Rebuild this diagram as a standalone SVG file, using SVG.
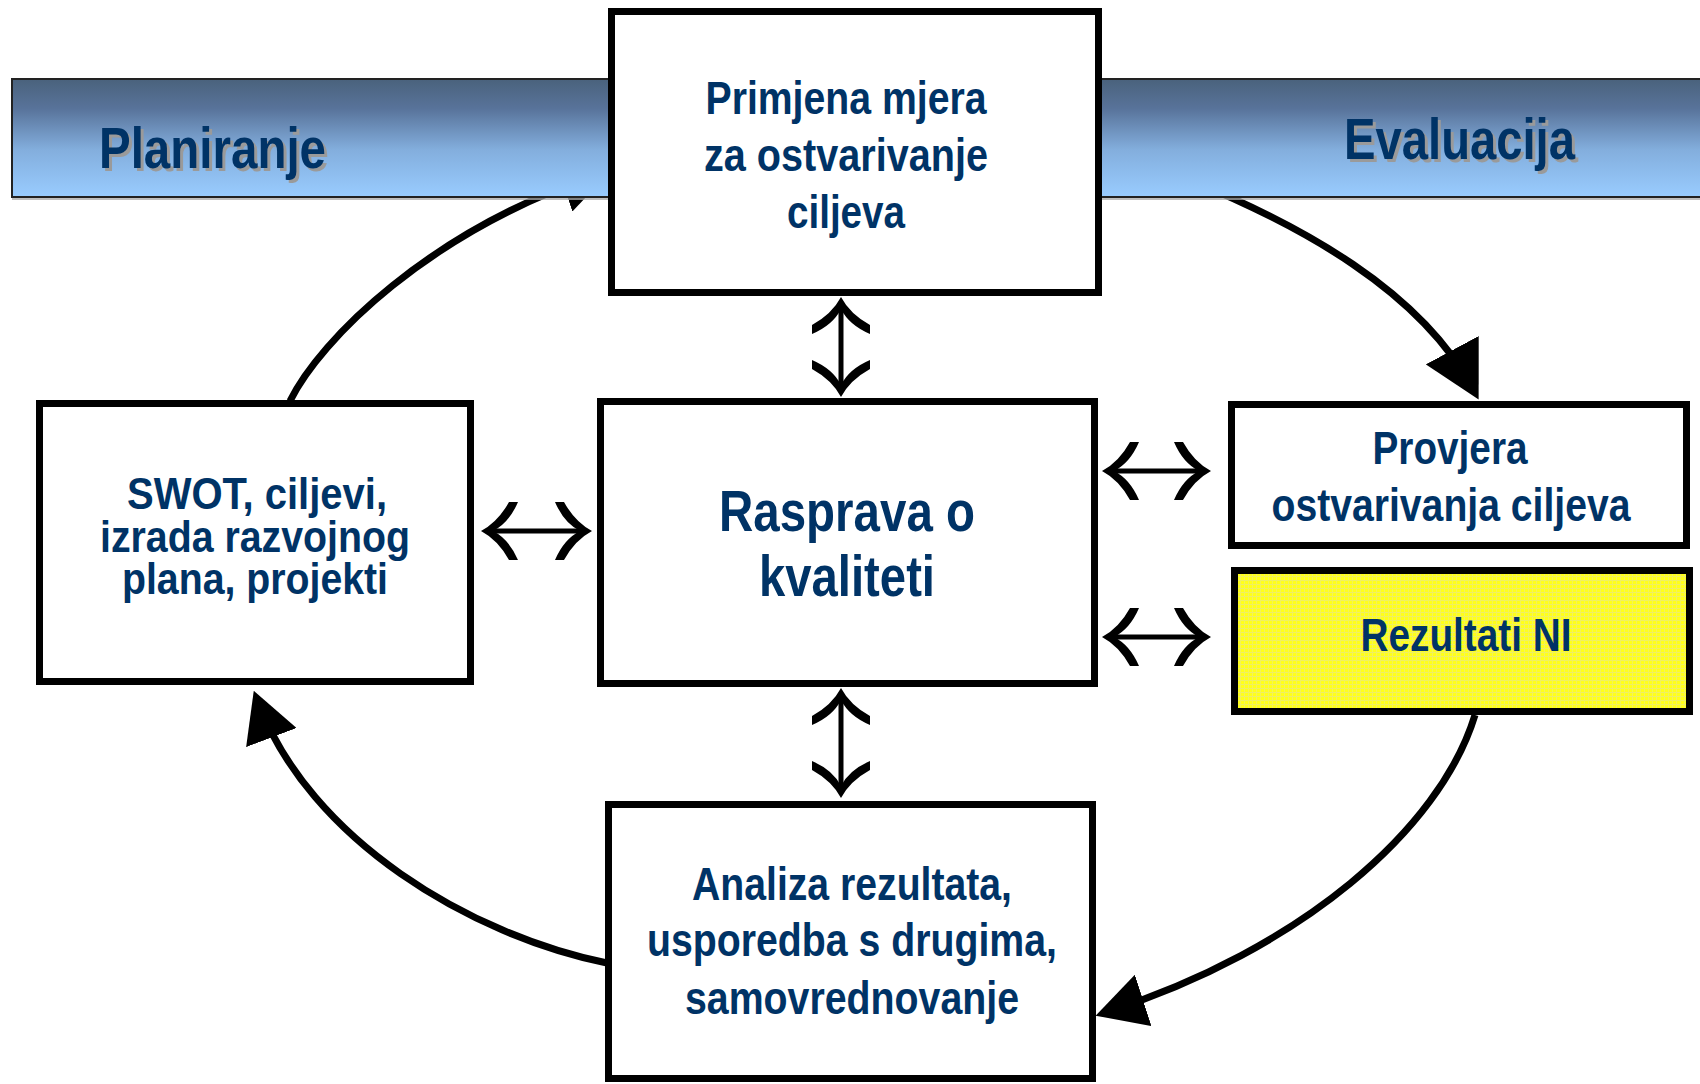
<svg xmlns="http://www.w3.org/2000/svg" width="1700" height="1084" viewBox="0 0 1700 1084">
<defs>
<style>
.box{fill:#ffffff;stroke:#000000;stroke-width:7}
.lbl{font-family:"Liberation Sans Narrow","Liberation Sans",Arial,sans-serif;font-weight:bold;fill:#003366;text-anchor:middle}
.t45{font-size:45px}
.t47{font-size:47px}
.t58{font-size:58px}
.ban{font-family:"Liberation Sans Narrow","Liberation Sans",Arial,sans-serif;font-weight:bold;font-size:58px}
.curve{fill:none;stroke:#000000;stroke-width:7;marker-end:url(#tri)}
.dbl{fill:none;stroke:#000000;stroke-width:5;marker-start:url(#chev);marker-end:url(#chev)}
</style>
<linearGradient id="bangrad" x1="0" y1="0" x2="0" y2="1">
<stop offset="0" stop-color="#4a627c"/>
<stop offset="0.25" stop-color="#58739a"/>
<stop offset="0.6" stop-color="#83aedd"/>
<stop offset="1" stop-color="#99ccff"/>
</linearGradient>
<pattern id="ytex" width="4" height="4" patternUnits="userSpaceOnUse">
<rect width="4" height="4" fill="#ffff1a"/>
<rect width="4" height="1" fill="#eeee66"/>
<rect width="1" height="4" fill="#f2f25a"/>
</pattern>
<marker id="tri" markerUnits="userSpaceOnUse" viewBox="0 0 50 54" markerWidth="50" markerHeight="54" refX="38" refY="27" orient="auto">
<path d="M0,0 L50,27 L0,54 Z" fill="#000000"/>
</marker>
<marker id="triL" markerUnits="userSpaceOnUse" viewBox="0 0 56 60" markerWidth="56" markerHeight="60" refX="44" refY="30" orient="auto">
<path d="M0,0 L56,30 L0,60 Z" fill="#000000"/>
</marker>
<marker id="chev" markerUnits="userSpaceOnUse" viewBox="0 0 40 60" markerWidth="40" markerHeight="60" refX="30" refY="30" orient="auto-start-reverse">
<path d="M39,30 Q22,21 11,1 L2,1 Q11,22 27,30 Q11,38 2,59 L11,59 Q22,39 39,30 Z" fill="#000000"/>
</marker>
</defs>
<rect width="1700" height="1084" fill="#ffffff"/>

<g id="connectors">
<path class="curve" d="M290,401 C320,340 430,230 600,174"/>
<path class="curve" style="marker-end:url(#triL)" d="M1190,180 C1300,225 1420,290 1473,389"/>
<path class="curve" d="M1475,715 C1440,830 1300,950 1107,1012"/>
<path class="curve" d="M607,963 C470,935 310,840 258,702"/>
<path class="dbl" d="M841,306 L841,388"/>
<path class="dbl" d="M841,697 L841,789"/>
<path class="dbl" d="M490,531 L583,531"/>
<path class="dbl" d="M1111,471 L1202,471"/>
<path class="dbl" d="M1111,637 L1202,637"/>
</g>

<g id="banner">
<rect x="12" y="79" width="1700" height="118" fill="url(#bangrad)" stroke="#222222" stroke-width="2"/>
<line x1="12" y1="199" x2="1700" y2="199" stroke="#aaaaaa" stroke-width="1.5"/>
<text class="ban" x="102" y="171" fill="#9a9a9a" textLength="227" lengthAdjust="spacingAndGlyphs">Planiranje</text>
<text class="ban" x="99" y="168" fill="#003366" textLength="227" lengthAdjust="spacingAndGlyphs">Planiranje</text>
<text class="ban" x="1347" y="162" fill="#9a9a9a" textLength="231" lengthAdjust="spacingAndGlyphs">Evaluacija</text>
<text class="ban" x="1344" y="159" fill="#003366" textLength="231" lengthAdjust="spacingAndGlyphs">Evaluacija</text>
</g>

<g id="node-primjena">
<rect class="box" x="611.5" y="11.5" width="487" height="281"/>
<text class="lbl t47" x="846" y="114" textLength="281" lengthAdjust="spacingAndGlyphs">Primjena mjera</text>
<text class="lbl t47" x="846" y="171" textLength="284" lengthAdjust="spacingAndGlyphs">za ostvarivanje</text>
<text class="lbl t47" x="846" y="228" textLength="118" lengthAdjust="spacingAndGlyphs">ciljeva</text>
</g>

<g id="node-rasprava">
<rect class="box" x="600.5" y="401.5" width="494" height="282"/>
<text class="lbl t58" x="847" y="531" textLength="256" lengthAdjust="spacingAndGlyphs">Rasprava o</text>
<text class="lbl t58" x="847" y="596" textLength="176" lengthAdjust="spacingAndGlyphs">kvaliteti</text>
</g>

<g id="node-swot">
<rect class="box" x="39.5" y="403.5" width="431" height="278"/>
<text class="lbl t45" x="257" y="509" textLength="260" lengthAdjust="spacingAndGlyphs">SWOT, ciljevi,</text>
<text class="lbl t45" x="255" y="552" textLength="310" lengthAdjust="spacingAndGlyphs">izrada razvojnog</text>
<text class="lbl t45" x="255" y="594" textLength="266" lengthAdjust="spacingAndGlyphs">plana, projekti</text>
</g>

<g id="node-provjera">
<rect class="box" x="1231.5" y="404.5" width="455" height="141"/>
<text class="lbl t47" x="1450" y="464" textLength="155" lengthAdjust="spacingAndGlyphs">Provjera</text>
<text class="lbl t47" x="1451" y="521" textLength="359" lengthAdjust="spacingAndGlyphs">ostvarivanja ciljeva</text>
</g>

<g id="node-rezultati">
<rect class="box" x="1234.5" y="570.5" width="455" height="141" style="fill:url(#ytex)"/>
<text class="lbl t47" x="1466" y="651" textLength="211" lengthAdjust="spacingAndGlyphs">Rezultati NI</text>
</g>

<g id="node-analiza">
<rect class="box" x="608.5" y="804.5" width="484" height="274"/>
<text class="lbl t47" x="852" y="900" textLength="320" lengthAdjust="spacingAndGlyphs">Analiza rezultata,</text>
<text class="lbl t47" x="852" y="956" textLength="410" lengthAdjust="spacingAndGlyphs">usporedba s drugima,</text>
<text class="lbl t47" x="852" y="1014" textLength="334" lengthAdjust="spacingAndGlyphs">samovrednovanje</text>
</g>
</svg>
